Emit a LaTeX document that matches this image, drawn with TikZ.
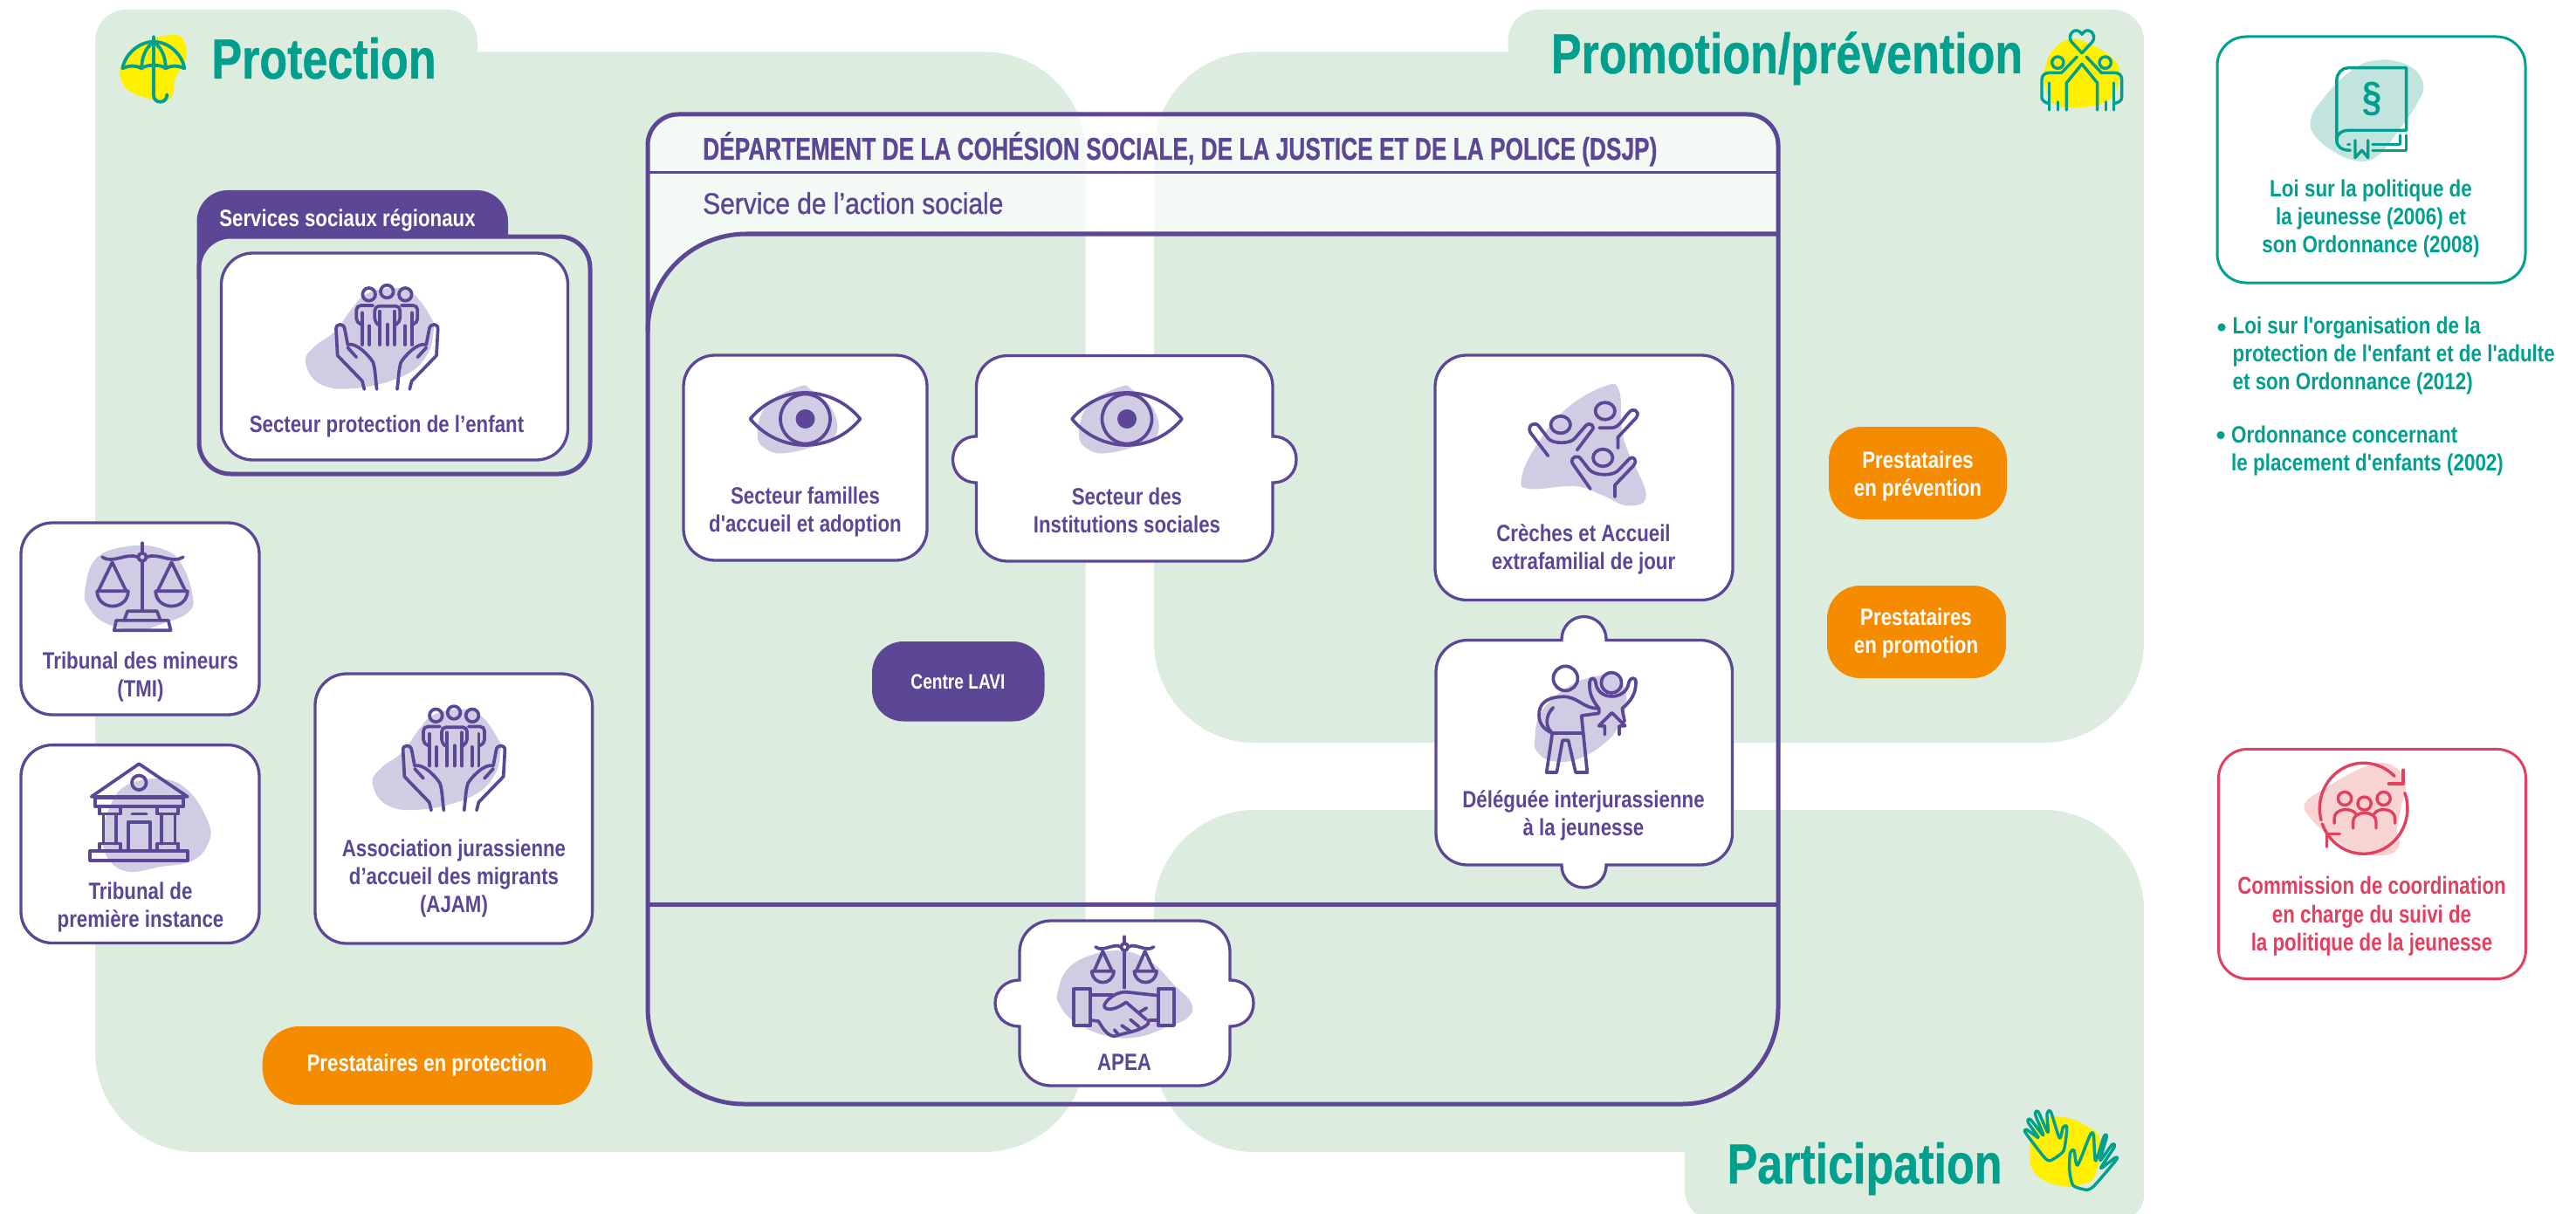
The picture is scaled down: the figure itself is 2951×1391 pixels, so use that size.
\documentclass[tikz,border=0pt]{standalone}
\usepackage{fontspec}
\setmainfont{Liberation Sans}
\newfontfamily\lblfont{Liberation Sans Bold}[FakeStretch=.825]
\newfontfamily\cfont{Liberation Sans Bold}[FakeStretch=.797]
\newfontfamily\rfont{Liberation Sans Bold}[FakeStretch=.83]
\newfontfamily\svcfont{Liberation Sans}[FakeStretch=.88,FakeBold=1]
\newfontfamily\headfont{Liberation Sans Bold}[FakeStretch=.73,FakeBold=.6]
\newfontfamily\bigfont{Liberation Sans Bold}[FakeStretch=.8,FakeBold=.6]
\definecolor{pgreen}{HTML}{DCEDDF}
\definecolor{pur}{HTML}{5C4696}
\definecolor{lpur}{HTML}{D0CCE3}
\definecolor{teal2}{HTML}{009F8E}
\definecolor{lteal}{HTML}{C3E4DE}
\definecolor{yel}{HTML}{FFF000}
\definecolor{org}{HTML}{F58C00}
\definecolor{rosso}{HTML}{E2405F}
\definecolor{lrosso}{HTML}{F7D3D1}
\tikzset{
 ic/.style={line width=3.7,draw=pur,line cap=round,line join=round},
 tc/.style={line width=3.4,draw=teal2,line cap=round,line join=round},
 rc/.style={line width=3.4,draw=rosso,line cap=round,line join=round},
 card/.style={draw=pur,line width=3.3,fill=white},
 lab/.style={font=\lblfont\fontsize{27}{32}\selectfont,text=pur,align=center,inner sep=0},
 olab/.style={font=\lblfont\fontsize{27}{32}\selectfont,text=white,align=center,inner sep=0},
 rlab/.style={font=\rfont\fontsize{27}{32}\selectfont,text=teal2,inner sep=0},
 clab/.style={font=\cfont\fontsize{28}{32.5}\selectfont,text=rosso,align=center,inner sep=0},
 big/.style={font=\bigfont\fontsize{65}{70}\selectfont,text=teal2,inner sep=0,anchor=base},
 orangebox/.style={fill=org,rounded corners=38},
}
\newcommand{\handsicon}{%
 \fill[lpur] plot[smooth cycle,tension=.7] coordinates {(30,285)(60,232)(130,180)(190,100)(240,50)(330,30)(400,50)(460,130)(470,175)(445,265)(360,335)(200,375)(80,360)};
 \draw[ic] (248,52) circle[radius=22] (310,42) circle[radius=22] (373,52) circle[radius=22];
 \draw[ic,rounded corners=5] (278,155) -- (268,148) -- (268,92) -- (355,92) -- (355,148) -- (342,155);
 \draw[ic] (285,110)--(285,225) (312,155)--(312,225) (337,110)--(337,225);
 \draw[ic,rounded corners=5] (222,155) -- (205,150) -- (205,90) -- (262,90);
 \draw[ic,rounded corners=5] (398,155) -- (415,150) -- (415,90) -- (360,90);
 \draw[ic] (225,115)--(225,225) (250,160)--(250,225) (395,115)--(395,225) (372,160)--(372,225);
 \draw[ic] (232,378) -- (225,350) -- (140,262) -- (135,172) .. controls (133,150) and (163,150) .. (165,172) -- (175,225) .. controls (205,215) and (250,265) .. (262,285) .. controls (270,310) and (270,340) .. (275,378);
 \draw[ic] (205,268)--(175,235);
 \draw[ic] (388,378) -- (395,350) -- (480,262) -- (485,172) .. controls (487,150) and (457,150) .. (455,172) -- (445,225) .. controls (415,215) and (370,265) .. (358,285) .. controls (350,310) and (350,340) .. (345,378);
 \draw[ic] (415,268)--(445,235);
}
\newcommand{\eyeicon}{%
 \fill[lpur] plot[smooth cycle,tension=.7] coordinates {(-7,-37)(-44,-16)(-55,18)(-44,35)(-21,39)(19,28)(36,15)(30,-12)(7,-33)};
 \draw[ic] (-63,0) .. controls (-30,-40) and (30,-40) .. (63,0) .. controls (30,40) and (-30,40) .. (-63,0);
 \draw[ic] (0,0) circle[radius=28.5];
 \fill[pur] (0,0) circle[radius=11];
}
\begin{document}
\begin{tikzpicture}[x=1pt,y=-1pt]
\path[use as bounding box,clip] (0,0) rectangle (2951,1391);
\fill[white] (0,0) rectangle (2951,1391);
% panels
\fill[pgreen] (109,47) .. controls (109,27) and (125,11) .. (145,11) -- (511,11) .. controls (531,11) and (547,27) .. (547,47) -- (547,59.5)
 -- (1128,59.5) .. controls (1191,59.5) and (1243.5,111) .. (1243.5,174) -- (1243.5,1205) .. controls (1243.5,1268) and (1191,1320) .. (1128,1320)
 -- (224,1320) .. controls (161,1320) and (109,1268) .. (109,1205) -- cycle;
\fill[pgreen] (1322,174) .. controls (1322,111) and (1374,59.5) .. (1437,59.5) -- (1727.5,59.5) -- (1727.5,47) .. controls (1727.5,27) and (1743,11) .. (1763,11)
 -- (2420,11) .. controls (2440,11) and (2456,27) .. (2456,47) -- (2456,736) .. controls (2456,799) and (2404,851) .. (2341,851)
 -- (1437,851) .. controls (1374,851) and (1322,799) .. (1322,736) -- cycle;
\fill[pgreen] (1322,1205) -- (1322,1043) .. controls (1322,980) and (1374,928) .. (1437,928) -- (2341,928) .. controls (2404,928) and (2456,980) .. (2456,1043)
 -- (2456,1369) .. controls (2456,1386) and (2442,1399) .. (2426,1399) -- (1966,1399) .. controls (1946,1399) and (1930,1383) .. (1930,1363) -- (1930,1320)
 -- (1437,1320) .. controls (1374,1320) and (1322,1268) .. (1322,1205) -- cycle;
% DSJP header tint
\fill[white,opacity=.68] (742,166) .. controls (742,147) and (758,131) .. (777,131) -- (2002,131) .. controls (2021,131) and (2037,147) .. (2037,166) -- (2037,268) -- (855,268) .. controls (793,268) and (742,318) .. (742,380) -- cycle;
% DSJP frame
\draw[pur,line width=5] (742,166) .. controls (742,147) and (758,131) .. (777,131) -- (2002,131) .. controls (2021,131) and (2037,147) .. (2037,166) -- (2037,1155) .. controls (2037,1216) and (1988,1265) .. (1927,1265) -- (852,1265) .. controls (791,1265) and (742,1216) .. (742,1155) -- cycle;
\draw[pur,line width=3.5] (742,197.5) -- (2037,197.5);
\draw[pur,line width=5] (2037,268) -- (855,268) .. controls (793,268) and (742,318) .. (742,380);
\draw[pur,line width=5] (742,1036) -- (2037,1036);
\node[font=\headfont\fontsize{36}{40}\selectfont,text=pur,anchor=base west,inner sep=0] (dsjp) at (805,183) {DÉPARTEMENT DE LA COHÉSION SOCIALE, DE LA JUSTICE ET DE LA POLICE (DSJP)};
\node[font=\svcfont\fontsize{34}{40}\selectfont,text=pur,anchor=base west,inner sep=0] (sas) at (805,245) {Service de l’action sociale};
% titles
\node[big] (tprot) at (371,90) {Protection};
\node[big] (tprom) at (2047,84) {Promotion/prévention};
\node[big] (tpart) at (2136,1356) {Participation};
% umbrella
\begin{scope}[xscale=1/1.96,yscale=1/2.613]
 \fill[yel] plot[smooth cycle,tension=.7] coordinates {(275,190)(320,130)(380,105)(412,120)(417,180)(395,230)(385,290)(360,300)(300,280)(272,240)};
 \draw[tc,line width=3.8] (275,205) .. controls (280,165) and (310,125) .. (345,125) .. controls (380,125) and (410,165) .. (414,205) .. controls (400,195) and (385,195) .. (372,205) .. controls (362,192) and (328,192) .. (318,205) .. controls (305,195) and (290,195) .. (275,205);
 \draw[tc,line width=3.8] (345,125) .. controls (325,145) and (318,175) .. (318,205) (345,125) .. controls (365,145) and (372,175) .. (372,205);
 \draw[tc,line width=3.8] (345,110) -- (345,285) .. controls (345,312) and (375,312) .. (375,283);
\end{scope}
% promotion icon
\begin{scope}[shift={(2320,20)},scale=1/3]
 \fill[yel] plot[smooth cycle,tension=.7] coordinates {(65,190)(90,120)(150,75)(220,90)(300,140)(325,190)(305,265)(250,300)(150,310)(90,290)(70,240)};
 \draw[tc] (195,122) -- (160,85) .. controls (140,60) and (175,25) .. (195,58) .. controls (215,25) and (250,60) .. (230,85) -- cycle;
 \draw[tc] (112,155) circle[radius=20] (275,155) circle[radius=20];
 \draw[tc] (178,135) -- (125,190) -- (85,190) .. controls (65,190) and (57,200) .. (57,215) -- (57,275) .. controls (57,285) and (70,295) .. (82,295);
 \draw[tc] (210,135) -- (262,190) -- (305,190) .. controls (325,190) and (332,200) .. (332,215) -- (332,275) .. controls (332,285) and (320,295) .. (305,295);
 \draw[tc] (82,225)--(82,318) (112,290)--(112,318) (305,225)--(305,318) (277,290)--(277,318);
 \draw[tc] (142,318)--(142,225)--(195,160)--(248,225)--(248,318);
\end{scope}
% hands (participation)
\begin{scope}[shift={(2300,1260)},scale=1/3]
 \fill[yel] plot[smooth cycle,tension=.7] coordinates {(75,180)(85,110)(130,65)(190,60)(260,85)(320,140)(300,260)(260,290)(200,298)(130,280)(85,240)};
 \draw[tc] plot[smooth,tension=.45] coordinates {(150,208)(130,203)(62,115)(65,103)(105,130)(70,78)(78,68)(122,122)(95,52)(105,42)(138,112)(135,50)(148,42)(178,132)(190,95)(203,95)(192,175)(150,208)};
 \draw[tc] plot[smooth,tension=.45] coordinates {(270,310)(225,295)(212,240)(215,182)(228,174)(240,225)(283,122)(295,122)(302,210)(330,128)(340,128)(318,208)(358,155)(366,163)(320,235)(368,200)(372,208)(295,298)(270,310)};
\end{scope}
% Services sociaux
\fill[pur] (225.5,320) -- (225.5,254) .. controls (225.5,234) and (241,218) .. (261,218) -- (546,218) .. controls (566,218) and (582,234) .. (582,254) -- (582,320) -- cycle;
\draw[pur,line width=5,fill=pgreen,rounded corners=36] (228,271) rectangle (676,543);
\node[olab] (ssr) at (398,252) {Services sociaux régionaux};
\draw[card,rounded corners=36] (253.5,290) rectangle (650.5,527);
\begin{scope}[shift={(340,320)},scale=1/3]\handsicon\end{scope}
\node[lab] (spe) at (443,489) {Secteur protection de l’enfant};
% tribunal mineurs
\draw[card,rounded corners=36] (24,599) rectangle (297,819);
\begin{scope}[shift={(0,580)},scale=1/2.178]
 \fill[lpur] plot[smooth cycle,tension=.7] coordinates {(212,210)(240,130)(320,100)(400,105)(450,140)(480,220)(470,265)(400,295)(340,310)(260,290)(220,250)};
 \draw[ic] (355,92)--(355,117) (355,137)--(355,262);
 \draw[ic] (355,127) circle[radius=10];
 \draw[ic] (255,127) .. controls (280,145) and (315,115) .. (345,127) (365,127) .. controls (395,115) and (430,145) .. (457,127);
 \draw[ic] (280,140)--(245,212) (280,140)--(315,212) (428,140)--(393,212) (428,140)--(463,212);
 \draw[ic] (242,212) -- (320,212) .. controls (318,262) and (244,262) .. (242,212);
 \draw[ic] (388,212) -- (468,212) .. controls (466,262) and (390,262) .. (388,212);
 \draw[ic] (310,285)--(318,262)--(392,262)--(400,285);
 \draw[ic] (285,310)--(290,285)--(420,285)--(426,310)--cycle;
\end{scope}
\node[lab] (tmi) at (161,776) {Tribunal des mineurs\\(TMI)};
% tribunal instance
\draw[card,rounded corners=36] (24,853.6) rectangle (297,1080.5);
\begin{scope}[shift={(0,580)},scale=1/2.178]
 \fill[lpur] plot[smooth cycle,tension=.7] coordinates {(270,760)(310,700)(400,680)(470,710)(520,790)(520,840)(480,885)(400,900)(320,912)(270,880)(255,820)};
 \draw[ic] (228,725)--(347,643)--(468,725)--cycle;
 \draw[ic] (347,690) circle[radius=18];
 \draw[ic] (238,728) rectangle (458,750);
 \draw[ic] (248,750) rectangle (300,768) (392,750) rectangle (445,768);
 \draw[ic] (258,768)--(258,842) (290,768)--(290,842) (403,768)--(403,842) (437,768)--(437,842);
 \draw[ic] (248,842) rectangle (300,860) (392,842) rectangle (445,860);
 \draw[ic] (225,860) rectangle (468,884);
 \draw[ic] (320,860)--(320,788)--(375,788)--(375,860);
 \draw[ic] (330,768)--(365,768);
\end{scope}
\node[lab] (tpi) at (161,1040) {Tribunal de\\première instance};
% AJAM
\draw[card,rounded corners=36] (361,772) rectangle (678.6,1081);
\begin{scope}[shift={(416.7,802.5)},scale=1/3]\handsicon\end{scope}
\node[lab] (ajam) at (520,1007) {Association jurassienne\\d’accueil des migrants\\(AJAM)};
% orange boxes
\fill[orangebox,rounded corners=42] (300.7,1176) rectangle (678.6,1266);
\node[olab] (pprot) at (489,1221) {Prestataires en protection};
\fill[orangebox] (2095,489) rectangle (2299,595);
\node[olab] (pprev) at (2197,546) {Prestataires\\en prévention};
\fill[orangebox] (2093,671) rectangle (2298,777);
\node[olab] (pprom) at (2195,726) {Prestataires\\en promotion};
% familles
\draw[card,rounded corners=36] (783,407) rectangle (1062,642);
\begin{scope}[shift={(922.5,480)}]\eyeicon\end{scope}
\node[lab] (fam) at (922.5,587) {Secteur familles\\d'accueil et adoption};
% institutions
\draw[card] (1118.5,443) .. controls (1118.5,423) and (1134,407.5) .. (1154.5,407.5) -- (1422,407.5) .. controls (1442,407.5) and (1458,423) .. (1458,443) -- (1458,500) .. controls (1475,500) and (1485,512) .. (1485,526.5) .. controls (1485,541) and (1475,553) .. (1458,553) -- (1458,607) .. controls (1458,627) and (1442,643) .. (1422,643) -- (1154.5,643) .. controls (1134,643) and (1118.5,627) .. (1118.5,607) -- (1118.5,553) .. controls (1102,553) and (1091.5,541) .. (1091.5,526.5) .. controls (1091.5,512) and (1102,500) .. (1118.5,500) -- cycle;
\begin{scope}[shift={(1291,480)}]\eyeicon\end{scope}
\node[lab] (inst) at (1291,585) {Secteur des\\Institutions sociales};
% Centre LAVI
\fill[pur,rounded corners=36] (999,735) rectangle (1196.5,826.5);
\node[font=\cfont\fontsize{24}{30}\selectfont,text=white,inner sep=0] (lavi) at (1097.5,781.5) {Centre LAVI};
% creches
\draw[card,rounded corners=36] (1644,407) rectangle (1985,687.5);
\begin{scope}[shift={(1600,0)},xscale=1/1.96,yscale=1/2.24]
 \fill[lpur] plot[smooth cycle,tension=.7] coordinates {(470,990)(500,1005)(505,1100)(520,1160)(560,1270)(520,1298)(460,1270)(400,1248)(300,1255)(280,1230)(310,1150)(380,1050)};
 \draw[ic] (368,1090) circle[radius=22] (468,1055) circle[radius=22] (463,1175) circle[radius=22];
 \draw[ic] (340,1170) -- (300,1110) .. controls (292,1090) and (312,1080) .. (320,1095) -- (340,1125) .. controls (350,1140) and (390,1140) .. (400,1125) -- (425,1092) .. controls (435,1082) and (447,1095) .. (438,1105) -- (405,1155);
 \draw[ic] (455,1098) -- (485,1098) .. controls (500,1095) and (505,1080) .. (522,1058) .. controls (530,1045) and (548,1055) .. (538,1072) -- (497,1122) -- (497,1150);
 \draw[ic] (435,1255) -- (395,1190) .. controls (388,1172) and (408,1165) .. (415,1180) -- (432,1205) .. controls (445,1222) and (485,1222) .. (497,1208) -- (522,1178) .. controls (530,1168) and (542,1180) .. (532,1195) -- (490,1245) -- (490,1275);
\end{scope}
\node[lab] (cre) at (1814,629) {Crèches et Accueil\\extrafamilial de jour};
% deleguee
\draw[card] (1645,770) .. controls (1645,750) and (1661,733.5) .. (1681,733.5) -- (1789,733.5) .. controls (1789,716) and (1802,706.5) .. (1814.5,706.5) .. controls (1827,706.5) and (1840,716) .. (1840,733.5) -- (1948,733.5) .. controls (1968,733.5) and (1984.5,750) .. (1984.5,770) -- (1984.5,955) .. controls (1984.5,975) and (1968,991) .. (1948,991) -- (1840,991) .. controls (1840,1008) and (1827,1017) .. (1814.5,1017) .. controls (1802,1017) and (1789,1008) .. (1789,991) -- (1681,991) .. controls (1661,991) and (1645,975) .. (1645,955) -- cycle;
\begin{scope}[shift={(1740,740)},scale=1/3]
 \fill[lpur] plot[smooth cycle,tension=.7] coordinates {(55,320)(70,240)(130,170)(210,120)(300,100)(345,115)(370,180)(350,260)(300,330)(200,390)(110,395)(60,360)};
 \draw[ic] (160,112) circle[radius=42];
 \draw[ic] (318,127) circle[radius=35];
 \draw[ic] (275,230) -- (275,215) .. controls (255,190) and (240,165) .. (243,125) .. controls (248,105) and (262,110) .. (264,125) .. controls (268,190) and (370,190) .. (378,125) .. controls (382,108) and (402,105) .. (402,125) .. controls (402,165) and (385,190) .. (355,215) -- (363,260);
 \draw[ic] (118,212) .. controls (90,240) and (90,280) .. (115,300);
 \draw[ic] (115,300) .. controls (80,285) and (65,260) .. (70,225) .. controls (75,190) and (110,175) .. (150,175) .. controls (200,172) and (220,215) .. (270,215) (275,232) -- (215,240) -- (235,435) -- (195,435) -- (170,325) -- (150,325) -- (130,435) -- (95,435) -- (115,300) -- (215,300);
 \draw[ic] (295,305)--(295,275)--(275,275)--(320,230)--(365,275)--(345,275)--(345,305);
\end{scope}
\node[lab] (del) at (1814,934) {Déléguée interjurassienne\\à la jeunesse};
% APEA
\draw[card] (1168,1091) .. controls (1168,1071) and (1184,1055) .. (1204,1055) -- (1373,1055) .. controls (1393,1055) and (1409,1071) .. (1409,1091) -- (1409,1123) .. controls (1426,1123) and (1436,1135) .. (1436,1149.5) .. controls (1436,1164) and (1426,1176) .. (1409,1176) -- (1409,1208) .. controls (1409,1228) and (1393,1244) .. (1373,1244) -- (1204,1244) .. controls (1184,1244) and (1168,1228) .. (1168,1208) -- (1168,1176) .. controls (1151,1176) and (1140,1164) .. (1140,1149.5) .. controls (1140,1135) and (1151,1123) .. (1168,1123) -- cycle;
\begin{scope}[shift={(1210,1070)},scale=1/3]
 \fill[lpur] plot[smooth cycle,tension=.7] coordinates {(5,200)(40,120)(130,70)(240,60)(330,100)(400,170)(465,240)(450,290)(380,320)(280,355)(170,350)(60,300)(10,240)};
 \draw[ic] (235,10)--(235,33) (235,57)--(235,185);
 \draw[ic] (235,45) circle[radius=12];
 \draw[ic] (135,45) .. controls (160,65) and (195,30) .. (223,45) (247,45) .. controls (275,30) and (310,65) .. (335,45);
 \draw[ic] (160,60)--(130,128) (160,60)--(192,128) (305,60)--(275,128) (305,60)--(337,128);
 \draw[ic] (122,128) -- (198,128) .. controls (195,180) and (125,180) .. (122,128);
 \draw[ic] (268,128) -- (345,128) .. controls (342,180) and (272,180) .. (268,128);
 \draw[ic] (60,190) rectangle (118,315) (350,190) rectangle (405,315);
 \draw[ic] (118,210)--(195,210) (350,212) -- (240,200) .. controls (215,200) and (195,210) .. (180,225) .. controls (165,240) and (160,250) .. (170,256) .. controls (190,265) and (220,250) .. (240,235) -- (310,295);
 \draw[ic] (118,297) -- (145,300) .. controls (160,325) and (175,350) .. (200,352) .. controls (235,340) and (290,335) .. (315,310) -- (318,297) -- (350,297);
 \draw[ic] (310,255)--(285,270) (255,295)--(285,320) (225,315)--(255,335) (200,330)--(215,348);
\end{scope}
\node[lab] (apea) at (1288,1217) {APEA};
% Loi box
\draw[draw=teal2,line width=3,fill=white,rounded corners=33] (2540,42) rectangle (2893,324);
\begin{scope}[shift={(2400,0)},xscale=1/2.846,yscale=1/2.613]
 \fill[lteal] plot[smooth cycle,tension=.7] coordinates {(703,360)(740,300)(830,215)(920,180)(1020,195)(1070,250)(1050,310)(990,390)(930,460)(870,483)(790,460)(720,410)};
 \draw[tc] (1015,390) -- (1015,203) -- (825,203) .. controls (805,203) and (788,220) .. (788,240) -- (788,420) .. controls (788,440) and (805,450) .. (832,450);
 \draw[tc] (1015,390) -- (830,390) .. controls (805,390) and (788,400) .. (788,420);
 \draw[tc] (825,432)--(830,432);
 \draw[tc] (848,420)--(848,472)--(870,450)--(890,472)--(890,420);
 \draw[tc] (905,432)--(995,432)--(995,405) (905,450)--(1015,450)--(1015,405);
\end{scope}
\node[font=\rfont\fontsize{48}{50}\selectfont,text=teal2,inner sep=0] (par) at (2718,113) {§};
\node[rlab,align=center] (loi) at (2716,251) {Loi sur la politique de\\la jeunesse (2006) et\\son Ordonnance (2008)};
\fill[teal2] (2545,375) circle[radius=4.6];
\node[rlab,align=left,anchor=north west] (l1) at (2557.4,363) {Loi sur l'organisation de la\\protection de l'enfant et de l'adulte\\et son Ordonnance (2012)};
\fill[teal2] (2544,498.6) circle[radius=4.6];
\node[rlab,align=left,anchor=north west] (l2) at (2556,488) {Ordonnance concernant\\le placement d'enfants (2002)};
% Commission
\draw[draw=rosso,line width=3,fill=white,rounded corners=33] (2541.5,858.4) rectangle (2893.5,1121.5);
\begin{scope}[shift={(2200,800)},xscale=1/2.088,yscale=1/2.653]
 \fill[lrosso] plot[smooth cycle,tension=.7] coordinates {(920,320)(960,280)(1060,210)(1120,200)(1160,250)(1150,330)(1140,400)(1145,450)(1110,478)(1040,465)(980,420)(930,360)};
 \draw[rc] plot[smooth,domain=165:315,samples=30] ({1060+105*cos(\x)},{335+138*sin(\x)});
 \draw[rc] plot[smooth,domain=-20:160,samples=30] ({1060+105*cos(\x)},{335+138*sin(\x)});
 \draw[rc] (1155,218)--(1155,260)--(1120,260);
 \draw[rc] (972,452)--(972,412)--(1003,412);
 \draw[rc] (1015,305) ellipse[x radius=16,y radius=20] (1062,320) ellipse[x radius=16,y radius=20] (1108,305) ellipse[x radius=16,y radius=20];
 \draw[rc] (990,380) -- (990,365) .. controls (990,335) and (1030,330) .. (1042,352);
 \draw[rc] (1035,395) -- (1035,375) .. controls (1035,340) and (1090,340) .. (1090,375) -- (1090,395);
 \draw[rc] (1085,352) .. controls (1095,330) and (1135,335) .. (1135,365) -- (1135,380);
\end{scope}
\node[clab] (com) at (2717,1050) {Commission de coordination\\en charge du suivi de\\la politique de la jeunesse};
\end{tikzpicture}
\end{document}
